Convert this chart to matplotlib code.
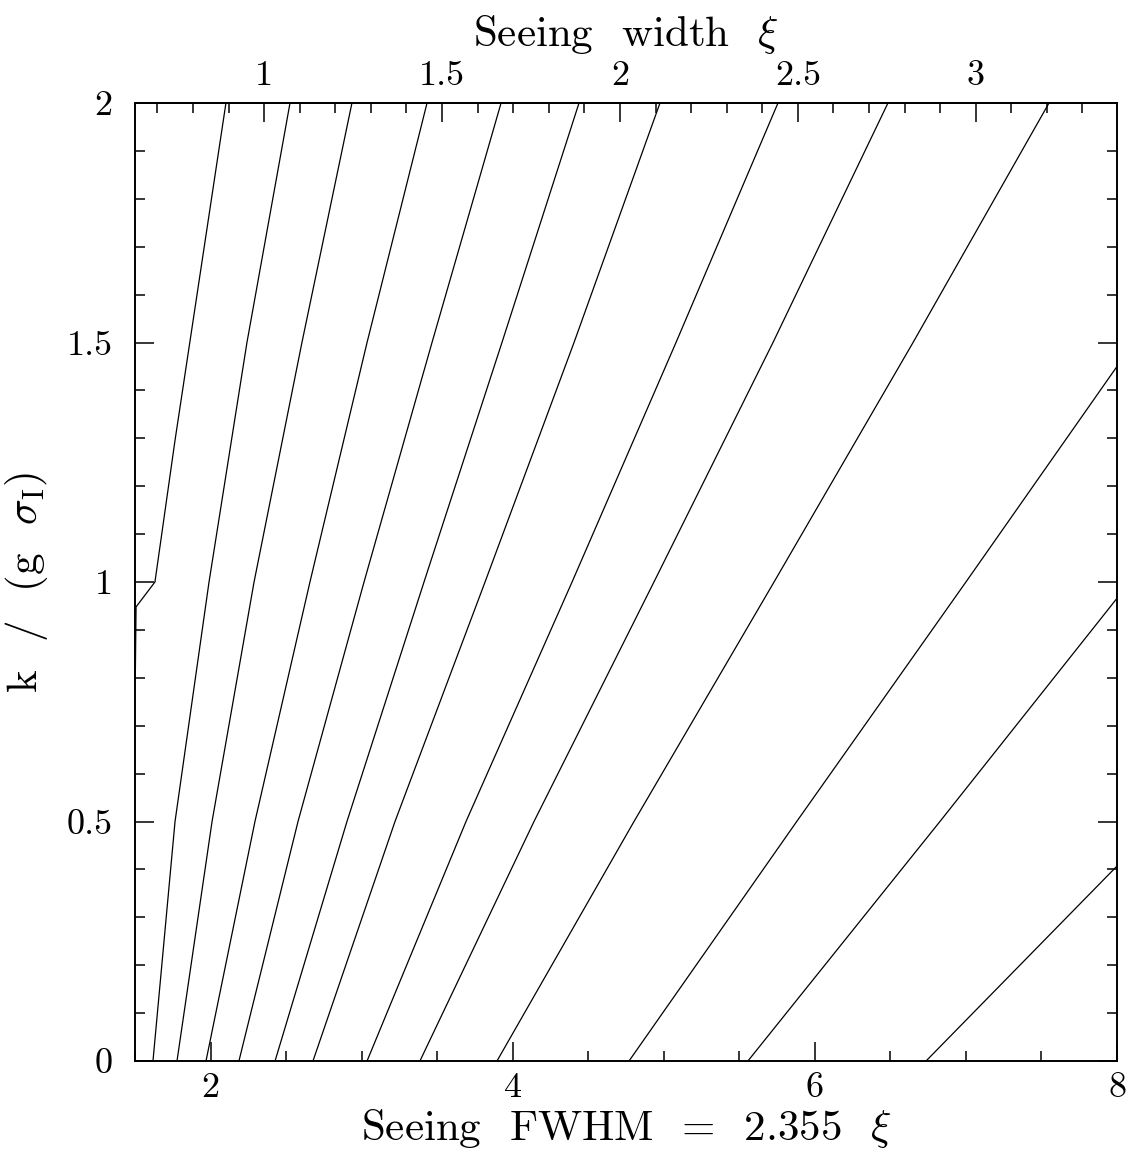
import numpy as np
import matplotlib
matplotlib.use("Agg")
import matplotlib.pyplot as plt
from matplotlib.ticker import MultipleLocator, FixedLocator

# ---- data (x = seeing FWHM, y = k/(g sigma_I)) ----
y_levels = [0.0, 0.5, 1.0, 1.5, 2.0]

# leftmost contour, with the kink near the left edge
kink_x = [1.502, 1.507, 1.632, 1.765, 2.102]
kink_y = [0.80, 0.948, 1.00, 1.296, 2.00]

# contours that run from bottom to top (x at each of y_levels)
full_x = [
    [1.619, 1.765, 1.990, 2.241, 2.526],
    [1.778, 2.010, 2.288, 2.605, 2.936],
    [1.970, 2.294, 2.658, 3.036, 3.433],
    [2.188, 2.579, 3.016, 3.466, 3.923],
    [2.427, 2.903, 3.413, 3.929, 4.439],
    [2.678, 3.221, 3.817, 4.406, 4.975],
    [3.036, 3.691, 4.393, 5.081, 5.756],
    [3.386, 4.141, 4.935, 5.723, 6.484],
    [3.896, 4.803, 5.730, 6.650, 7.550],
]

# contours that leave through the right edge
right_x = [
    [4.770, 5.880, 7.000, 8.0],
    [5.557, 6.828, 8.0],
    [6.736, 8.0],
]
right_y = [
    [0.0, 0.5, 1.0, 1.45],
    [0.0, 0.5, 0.966],
    [0.0, 0.407],
]

xi_per_fwhm = 2.355
top_ticks = [1, 1.5, 2, 2.5, 3]

#===================================================================#
plt.rcParams['font.family'] = ['cmr10', 'DejaVu Serif']
plt.rcParams['mathtext.fontset'] = 'cm'
plt.rcParams['axes.formatter.use_mathtext'] = True

fig = plt.figure(figsize=(11.45, 11.7), dpi=100)
ax = fig.add_axes([135/1145, 1 - 1061/1170, (1117-135)/1145, (1061-103)/1170])

lw = 0.9
ax.plot(kink_x, kink_y, color='black', lw=lw, clip_on=False)
for xs in full_x:
    ax.plot(xs, y_levels, color='black', lw=lw)
for xs, ys in zip(right_x, right_y):
    ax.plot(xs, ys, color='black', lw=lw)

ax.set_xlim(1.5, 8)
ax.set_ylim(0, 2)

ax.xaxis.set_major_locator(MultipleLocator(2))
ax.xaxis.set_minor_locator(MultipleLocator(0.5))
ax.yaxis.set_major_locator(MultipleLocator(0.5))
ax.yaxis.set_minor_locator(MultipleLocator(0.1))

ax.tick_params(which='both', direction='in', bottom=True, left=True, right=True, top=False,
               width=1.1, labelsize=26)
ax.tick_params(which='major', length=14)
ax.tick_params(which='minor', length=7)
ax.tick_params(axis='y', pad=16)
ax.tick_params(axis='x', pad=8)

def fmt(v, pos):
    return '%g' % v
ax.xaxis.set_major_formatter(plt.FuncFormatter(fmt))
ax.yaxis.set_major_formatter(plt.FuncFormatter(fmt))

for sp in ax.spines.values():
    sp.set_linewidth(1.4)

top = ax.secondary_xaxis('top', functions=(lambda x: x / xi_per_fwhm, lambda x: x * xi_per_fwhm))
top.xaxis.set_major_locator(FixedLocator(top_ticks))
top.xaxis.set_minor_locator(MultipleLocator(0.1))
top.xaxis.set_major_formatter(plt.FuncFormatter(fmt))
top.tick_params(which='both', direction='in', width=1.1, labelsize=26, pad=8)
top.tick_params(which='major', length=14)
top.tick_params(which='minor', length=7)
top.spines['top'].set_linewidth(1.4)

ax.set_xlabel(r'Seeing  FWHM  =  2.355  $\xi$', fontsize=31, labelpad=2)
top.set_xlabel(r'Seeing  width  $\xi$', fontsize=31, labelpad=10)
ax.set_ylabel(r'k  /  (g  $\sigma_{\rm I}$)', fontsize=31, labelpad=12)

fig.savefig('out.png', dpi=100)
